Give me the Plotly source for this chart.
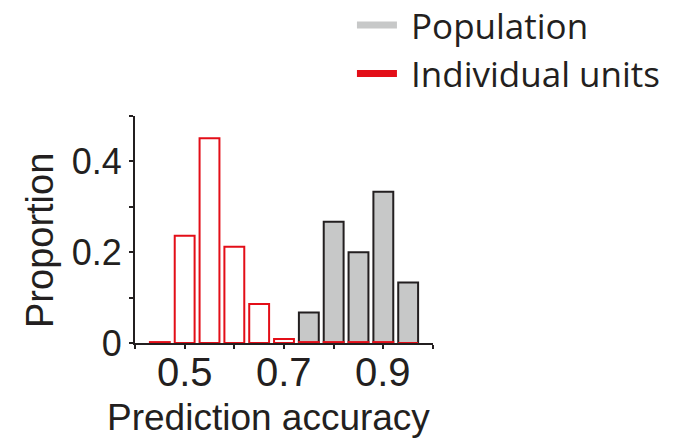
import plotly.graph_objects as go

# Histogram bin centres (prediction accuracy) and proportions
bin_centers = [0.45, 0.50, 0.55, 0.60, 0.65, 0.70, 0.75, 0.80, 0.85, 0.90, 0.95]
population = [0, 0, 0, 0, 0, 0, 0.067, 0.267, 0.200, 0.333, 0.133]
individual_units = [0.002, 0.236, 0.451, 0.212, 0.086, 0.009, 0.002, 0.002, 0.002, 0.002, 0]

x_tickvals = [0.4, 0.5, 0.6, 0.7, 0.8, 0.9, 1.0]
x_ticktext = ["", "0.5", "", "0.7", "", "0.9", ""]
y_tickvals = [0, 0.1, 0.2, 0.3, 0.4, 0.5]
y_ticktext = ["0", "", "0.2", "", "0.4", ""]

AXIS_FONT = "Liberation Sans"
LEGEND_FONT = "Open Sans"
INK = "#231f20"
GRAY = "#c7c8c8"
RED = "#e30e18"

fig = go.Figure()

fig.add_trace(go.Bar(
    x=bin_centers, y=population, width=0.04,
    marker=dict(color=GRAY, line=dict(color=INK, width=2)),
    showlegend=False,
))
fig.add_trace(go.Bar(
    x=bin_centers, y=individual_units, width=0.04,
    marker=dict(color="white", line=dict(color=RED, width=2)),
    showlegend=False,
))

# Legend entries shown as thick line swatches
fig.add_trace(go.Scatter(x=[None], y=[None], mode="lines", name=" Population",
                         line=dict(color=GRAY, width=7)))
fig.add_trace(go.Scatter(x=[None], y=[None], mode="lines", name=" Individual units",
                         line=dict(color=RED, width=7)))

# x tick labels placed as text just under the axis, at each tick value
x_label_annotations = [
    dict(text=t, x=v, xref="x", yref="paper", y=-0.128,
         xanchor="center", yanchor="middle", showarrow=False,
         font=dict(size=40))
    for v, t in zip(x_tickvals, x_ticktext) if t
]

fig.update_layout(
    width=692, height=443,
    margin=dict(l=135, r=259, t=116, b=100, autoexpand=False),
    paper_bgcolor="white", plot_bgcolor="white",
    barmode="overlay",
    font=dict(family=AXIS_FONT, color=INK, size=36),
    legend=dict(
        x=0.728, y=1.53, xanchor="left", yanchor="top",
        font=dict(family=LEGEND_FONT, size=35, color=INK), itemwidth=40,
        tracegroupgap=0, bgcolor="rgba(0,0,0,0)",
    ),
    xaxis=dict(
        range=[0.4, 1.0], tickvals=x_tickvals, showticklabels=False,
        showline=True, linecolor=INK, linewidth=2,
        ticks="outside", ticklen=4, tickwidth=1.5, tickcolor=INK,
        showgrid=False, zeroline=False,
        automargin=False,
    ),
    yaxis=dict(
        range=[0, 0.5], tickvals=y_tickvals, ticktext=y_ticktext,
        showline=True, linecolor=INK, linewidth=2,
        ticks="outside", ticklen=4, tickwidth=1.5, tickcolor=INK,
        showgrid=False, zeroline=False,
        tickfont=dict(size=36),
        automargin=False,
    ),
    annotations=x_label_annotations + [
        dict(text="Prediction accuracy", xref="paper", yref="paper",
             x=0.448, y=-0.326, xanchor="center", yanchor="middle",
             showarrow=False, font=dict(size=37)),
        dict(text="Proportion", xref="paper", yref="paper",
             x=-0.3188, y=0.4537, xanchor="center", yanchor="middle",
             textangle=-90, showarrow=False, font=dict(size=38)),
    ],
)

fig.write_html("out.html")
